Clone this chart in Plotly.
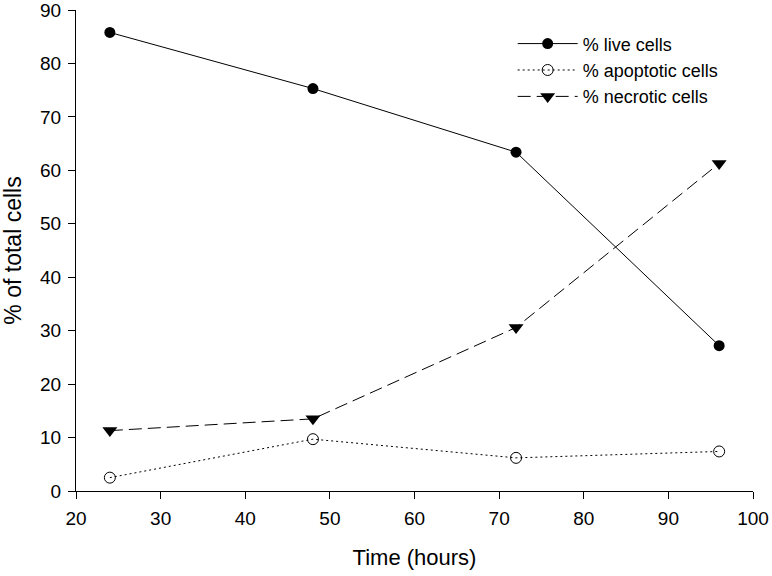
import plotly.graph_objects as go

hours = [24, 48, 72, 96]
live = [85.8, 75.3, 63.4, 27.2]
apoptotic = [2.5, 9.7, 6.2, 7.4]
necrotic = [11.3, 13.5, 30.6, 61.3]
x_ticks = [20, 30, 40, 50, 60, 70, 80, 90, 100]
y_ticks = [0, 10, 20, 30, 40, 50, 60, 70, 80, 90]

FONT = "Liberation Sans, Arial"

fig = go.Figure()
fig.add_trace(go.Scatter(x=hours, y=live, mode="lines+markers", name="% live cells",
                         line=dict(color="black", width=1),
                         marker=dict(symbol="circle", size=11, color="black")))
fig.add_trace(go.Scatter(x=hours, y=apoptotic, mode="lines+markers", name="% apoptotic cells",
                         line=dict(color="black", width=1, dash="2px,3px"),
                         marker=dict(symbol="circle-open", size=11, color="black", line=dict(width=1))))
fig.add_trace(go.Scatter(x=hours, y=necrotic, mode="lines+markers", name="% necrotic cells",
                         line=dict(color="black", width=1, dash="13px,6px"),
                         marker=dict(symbol="triangle-down", size=13, color="black")))

axis_common = dict(showgrid=False, zeroline=False, showline=True, linecolor="black", linewidth=1,
                   ticks="outside", ticklen=7, tickwidth=1, tickcolor="black", automargin=False,
                   ticklabeloverflow="allow",
                   tickfont=dict(family=FONT, size=19, color="black"))

fig.update_layout(
    width=772, height=576,
    margin=dict(l=76, r=19, t=10, b=85),
    plot_bgcolor="white", paper_bgcolor="white",
    xaxis=dict(range=[20, 100], tickvals=x_ticks, ticklabelstandoff=3,
               title=dict(text="Time (hours)", font=dict(family=FONT, size=22, color="black"), standoff=21),
               **axis_common),
    yaxis=dict(range=[0, 90], tickvals=y_ticks, ticklabelstandoff=3,
               title=dict(text="% of total cells", font=dict(family=FONT, size=23, color="black"), standoff=12),
               **axis_common),
    legend=dict(x=0.645, y=0.968, xanchor="left", yanchor="top", bgcolor="rgba(0,0,0,0)",
                font=dict(family=FONT, size=18, color="black"),
                tracegroupgap=0, itemwidth=60),
    showlegend=True,
)

fig.write_html("out.html", config={"displayModeBar": False},
               post_script="document.body.style.margin='0';document.body.style.overflow='hidden';")
